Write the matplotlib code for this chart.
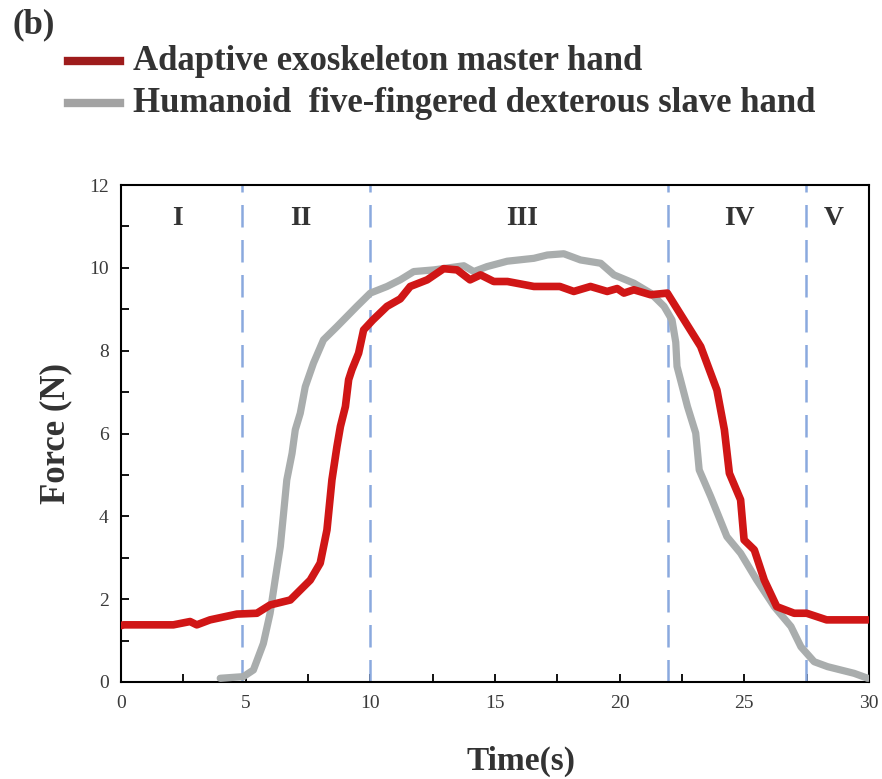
import matplotlib
matplotlib.use("Agg")
import matplotlib.pyplot as plt
from matplotlib.ticker import MultipleLocator
from matplotlib.lines import Line2D

plt.rcParams['font.family'] = ['Liberation Serif', 'DejaVu Serif']

# Master hand (red)
master_t = [0.0, 0.1, 2.1, 2.77, 3.04, 3.57, 4.65, 5.45, 5.98, 6.79, 7.59, 7.99, 8.26, 8.46,
            8.66, 8.8, 9.0, 9.13, 9.26, 9.53, 9.73, 10.1, 10.67, 11.2, 11.6, 12.28, 12.94,
            13.48, 14.0, 14.42, 14.95, 15.5, 16.56, 17.6, 18.16, 18.83, 19.5, 19.9, 20.17,
            20.57, 21.24, 21.91, 23.25, 23.9, 24.2, 24.4, 24.85, 24.99, 25.4, 25.8, 26.3,
            27.0, 27.5, 28.3, 29.95]
master_f = [1.36, 1.38, 1.38, 1.46, 1.38, 1.5, 1.64, 1.66, 1.86, 1.98, 2.46, 2.87, 3.67, 4.88,
            5.68, 6.17, 6.65, 7.3, 7.54, 7.94, 8.5, 8.74, 9.07, 9.25, 9.55, 9.71, 9.98,
            9.95, 9.71, 9.83, 9.67, 9.67, 9.55, 9.55, 9.43, 9.55, 9.43, 9.5, 9.39,
            9.47, 9.35, 9.39, 8.1, 7.05, 6.09, 5.04, 4.4, 3.43, 3.19, 2.46, 1.82,
            1.66, 1.66, 1.5, 1.5]

# Slave hand (gray)
slave_t = [3.98, 4.91, 5.31, 5.71, 5.98, 6.18, 6.39, 6.52, 6.65, 6.86, 6.99, 7.19, 7.39, 7.72,
           8.12, 8.66, 9.46, 10.0, 10.67, 11.2, 11.74, 12.54, 13.75, 14.15, 14.68, 15.49,
           16.56, 17.1, 17.76, 18.43, 19.24, 19.77, 20.57, 21.24, 21.78, 22.1, 22.25, 22.3,
           22.72, 23.05, 23.19, 23.65, 24.3, 24.85, 25.5, 26.2, 26.87, 27.27, 27.8, 28.34,
           28.87, 29.4, 29.95]
slave_f = [0.09, 0.13, 0.29, 0.93, 1.66, 2.46, 3.27, 4.07, 4.88, 5.52, 6.09, 6.49, 7.13, 7.7,
           8.26, 8.58, 9.07, 9.39, 9.55, 9.71, 9.91, 9.95, 10.05, 9.91, 10.03, 10.16,
           10.23, 10.31, 10.34, 10.19, 10.11, 9.83, 9.63, 9.39, 9.07, 8.74, 8.2, 7.62,
           6.65, 6.01, 5.12, 4.48, 3.51, 3.11, 2.46, 1.82, 1.34, 0.85, 0.49, 0.37,
           0.29, 0.21, 0.09]

phase_bounds = [4.85, 10, 21.93, 27.48]
phase_labels = ['I', 'II', 'III', 'IV', 'V']
phase_label_x = [2.25, 7.2, 16.1, 24.8, 28.6]

legend_labels = ['Adaptive exoskeleton master hand',
                 'Humanoid  five-fingered dexterous slave hand']
legend_colors = ['#9e1c1c', '#a3a3a3']

W, H = 882, 779
fig = plt.figure(figsize=(W / 100, H / 100), dpi=100)
ax = fig.add_axes([121 / W, 1 - 682 / H, 748 / W, 497 / H])

red = '#d01616'
gray = '#a9adad'

ax.plot(slave_t, slave_f, color=gray, lw=5.2, solid_joinstyle='round', solid_capstyle='round', zorder=3)
ax.plot(master_t, master_f, color=red, lw=5.5, solid_joinstyle='round', solid_capstyle='round', zorder=4)

for b in phase_bounds:
    ax.axvline(b, color='#8aa9de', lw=1.8, dashes=(9, 5), zorder=2)

for lab, xp in zip(phase_labels, phase_label_x):
    ax.text(xp, 11.2, lab, ha='center', va='center', fontsize=20, fontweight='bold', color='#333333')

ax.set_xlim(0, 30)
ax.set_ylim(0, 12)
ax.xaxis.set_major_locator(MultipleLocator(5))
ax.xaxis.set_minor_locator(MultipleLocator(2.5))
ax.yaxis.set_major_locator(MultipleLocator(2))
ax.yaxis.set_minor_locator(MultipleLocator(1))
ax.tick_params(which='both', direction='in', length=6, width=1.3, labelsize=14,
               labelcolor='#3a3a3a', pad=9)
for s in ax.spines.values():
    s.set_linewidth(1.5)

ax.set_xlabel('Time(s)', fontsize=24, fontweight='bold', color='#333333')
ax.xaxis.set_label_coords(0.535, -0.128)
ax.set_ylabel('Force (N)', fontsize=25, fontweight='bold', color='#333333')
ax.yaxis.set_label_coords(-0.0655, 0.5)

fig.text(12 / W, 1 - 25 / H, '(b)', fontsize=25, fontweight='bold', color='#333333',
         va='center', ha='left')

row_y = [61, 103]
base_y = [70, 112]
for lab, col, ry, by in zip(legend_labels, legend_colors, row_y, base_y):
    fig.add_artist(Line2D([68 / W, 120 / W], [1 - ry / H, 1 - ry / H], color=col, lw=6,
                          transform=fig.transFigure))
    fig.text(133 / W, 1 - by / H, lab, fontsize=25, fontweight='bold', color='#333333',
             va='baseline', ha='left')

fig.savefig('out.png', dpi=100)
